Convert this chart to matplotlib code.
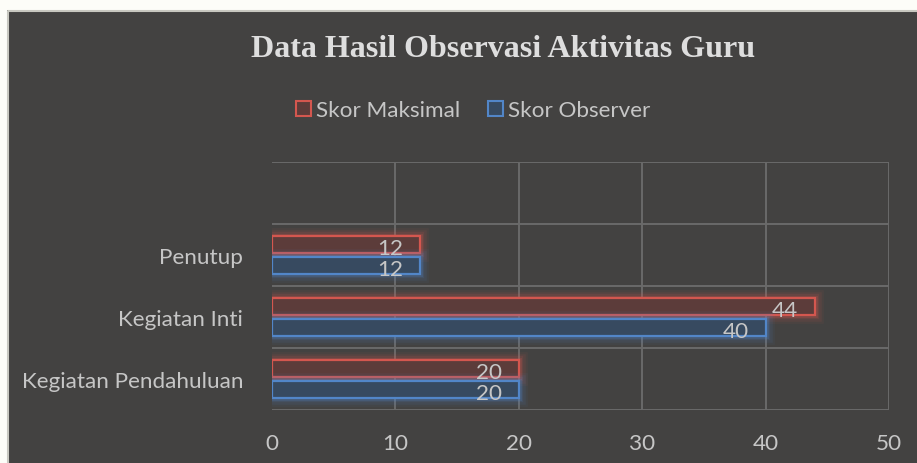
import matplotlib
matplotlib.use("Agg")
import matplotlib.pyplot as plt
import matplotlib.patheffects as pe
from matplotlib.patches import Rectangle, Patch
from matplotlib.textpath import TextPath
from matplotlib.font_manager import FontProperties
import numpy as np

categories = ["Kegiatan Pendahuluan", "Kegiatan Inti", "Penutup"]
skor_maksimal = [20, 44, 12]
skor_observer = [20, 40, 12]
series_names = ["Skor Maksimal", "Skor Observer"]
x_ticks = [0, 10, 20, 30, 40, 50]
title = "Data Hasil Observasi Aktivitas Guru"

BG = "#434241"
RED = "#d4574f"
RED_FILL = "#5c3c3a"
BLUE = "#5286c8"
BLUE_FILL = "#374a60"
TXT = "#c6c6c6"
GRID = "#6a6a6a"
DPI = 100

SANS = ["Lato", "DejaVu Sans"]
SERIF = ["Liberation Serif", "DejaVu Serif"]


def fit_size(text, target_px, family, weight="normal"):
    """Font size (pt) so that text is target_px wide at DPI."""
    fp = FontProperties(family=family, weight=weight, size=100)
    w = TextPath((0, 0), text, prop=fp).get_extents().width  # in points at size 100
    return 100 * (target_px * 72 / DPI) / w


FS = fit_size("Kegiatan Pendahuluan", 217, SANS)
TFS = fit_size(title, 501, SERIF, "bold")

plt.rcParams["font.family"] = SANS

fig = plt.figure(figsize=(9.17, 4.64), dpi=DPI)
fig.patch.set_facecolor(BG)
# white margins (top and left) and light border of the chart area
fig.patches.append(Rectangle((0, 1 - 11/464), 1, 11/464, transform=fig.transFigure,
                             facecolor="#fdfdf8", edgecolor="none", zorder=-5))
fig.patches.append(Rectangle((0, 0), 7/917, 1, transform=fig.transFigure,
                             facecolor="#fdfdf8", edgecolor="none", zorder=-5))
fig.lines.append(plt.Line2D([7.5/917, 7.5/917, 1], [0, 1 - 11.5/464, 1 - 11.5/464],
                            transform=fig.transFigure, color="#c8c8c0",
                            linewidth=1.5, zorder=-4))

ax = fig.add_axes([272/917, 1 - 411/464, (889 - 272)/917, (411 - 163)/464])
ax.set_facecolor("none")
ax.set_zorder(2)

y = np.arange(len(categories))
h = 0.26
off = 0.17


def glow(color):
    return [pe.Stroke(linewidth=12, foreground=color, alpha=0.06),
            pe.Stroke(linewidth=9, foreground=color, alpha=0.09),
            pe.Stroke(linewidth=6, foreground=color, alpha=0.13),
            pe.Stroke(linewidth=3.5, foreground=color, alpha=0.22),
            pe.Normal()]


b1 = ax.barh(y + off, skor_maksimal, height=h, color=RED_FILL, edgecolor=RED,
             linewidth=1.6, zorder=3)
b2 = ax.barh(y - off, skor_observer, height=h, color=BLUE_FILL, edgecolor=BLUE,
             linewidth=1.6, zorder=3)
for b in b1:
    b.set_path_effects(glow(RED))
for b in b2:
    b.set_path_effects(glow(BLUE))

# digit height in points for baseline placement of value labels
digit_h = TextPath((0, 0), "0", prop=FontProperties(family=SANS, size=FS)).get_extents().height
for bars, vals in ((b1, skor_maksimal), (b2, skor_observer)):
    for bar, v in zip(bars, vals):
        ax.annotate(f"{v}", (v, bar.get_y() + bar.get_height() / 2),
                    xytext=(-12.2, -digit_h / 2 - 1.0), textcoords="offset points",
                    ha="right", va="baseline", color=TXT, fontsize=FS, zorder=5)

ax.set_xlim(0, 50)
ax.set_ylim(-0.5, 3.5)
ax.set_xticks(x_ticks)
ax.set_xticklabels([str(t) for t in x_ticks])
ax.set_yticks(y)
ax.set_yticklabels(categories)
ax.tick_params(axis="both", length=0, colors=TXT, labelsize=FS)
ax.tick_params(axis="x", pad=16.8)
ax.tick_params(axis="y", pad=29 * 72 / DPI)

for t in x_ticks[1:]:
    ax.axvline(t, color=GRID, linewidth=1.4, zorder=1)
for yb in [-0.5, 0.5, 1.5, 2.5, 3.5]:
    ax.axhline(yb, color=GRID, linewidth=1.4, zorder=1)
for s in ax.spines.values():
    s.set_visible(False)

fig.text(503.5/917, 1 - 57/464, title, ha="center", va="baseline",
         fontsize=TFS, fontweight="bold", color="#dedede", family=SERIF)

handles = [Patch(facecolor=RED_FILL, edgecolor=RED, linewidth=1.5),
           Patch(facecolor=BLUE_FILL, edgecolor=BLUE, linewidth=1.5)]
em_px = FS * DPI / 72
fig.legend(handles, series_names, loc="center", bbox_to_anchor=(473/917, 1 - 111/464),
           ncol=2, frameon=False, fontsize=FS, labelcolor=TXT,
           handlelength=15 / em_px, handleheight=15 / em_px,
           handletextpad=5 / em_px, columnspacing=28 / em_px)

fig.savefig("out.png", dpi=DPI, facecolor=fig.get_facecolor())
